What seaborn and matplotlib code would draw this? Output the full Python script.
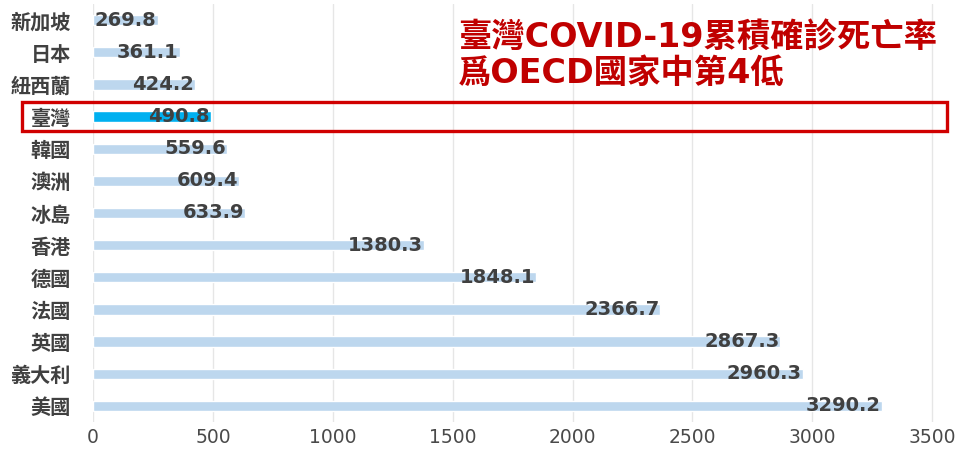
import matplotlib
matplotlib.use("Agg")
import matplotlib.pyplot as plt
import matplotlib.transforms as mtransforms
from matplotlib.patches import Rectangle
import seaborn as sns
import pandas as pd

# data
countries = ["新加坡", "日本", "紐西蘭", "臺灣", "韓國", "澳洲", "冰島",
             "香港", "德國", "法國", "英國", "義大利", "美國"]
values = [269.8, 361.1, 424.2, 490.8, 559.6, 609.4, 633.9,
          1380.3, 1848.1, 2366.7, 2867.3, 2960.3, 3290.2]
highlight = "臺灣"
title_lines = ["臺灣COVID-19累積確診死亡率", "爲OECD國家中第4低"]
xticks = [0, 500, 1000, 1500, 2000, 2500, 3000, 3500]

sns.set_style("white")
plt.rcParams["font.family"] = ["Noto Sans CJK TC", "DejaVu Sans"]

df = pd.DataFrame({"country": countries, "value": values})
colors = {c: ("#00b0f0" if c == highlight else "#bdd7ee") for c in countries}

fig = plt.figure(figsize=(9.58, 4.5), dpi=100)
ax = fig.add_axes([93 / 958, 1 - 422 / 450, (947 - 93) / 958, (422 - 4) / 450])

sns.barplot(data=df, x="value", y="country", hue="country", palette=colors,
            saturation=1, width=0.32, legend=False, ax=ax, orient="h", zorder=2)

# taiwan bar a bit thicker
for p, c in zip(ax.patches, countries):
    if c == highlight:
        h = 0.37
        p.set_y(countries.index(c) - h / 2)
        p.set_height(h)

ax.set_xlim(0, 3562)
ax.set_ylim(len(countries) - 0.5, -0.5)
ax.set_xticks(xticks)
ax.set_xlabel("")
ax.set_ylabel("")
ax.grid(axis="x", color="#e6e6e6", linewidth=1, zorder=0)
ax.set_axisbelow(True)
sns.despine(ax=ax, left=True, bottom=True, right=True, top=True)
ax.tick_params(axis="both", length=0)
ax.tick_params(axis="y", pad=16)
ax.tick_params(axis="x", pad=4)

for lab in ax.get_yticklabels():
    lab.set_fontsize(14.5)
    lab.set_fontweight("bold")
    lab.set_color("#404040")
for lab in ax.get_xticklabels():
    lab.set_fontsize(13.5)
    lab.set_family(["DejaVu Sans"])
    lab.set_color("#4a4a4a")

# value labels at bar ends
for i, v in enumerate(values):
    ax.text(v - 4, i, f"{v:.1f}", ha="right", va="center", fontsize=14,
            fontweight="bold", family=["DejaVu Sans"], color="#404040", zorder=3)

# title
for k, line in enumerate(title_lines):
    fig.text(458 / 958, 1 - (38 + 35 * k) / 450, line, ha="left", va="center",
             fontsize=24, fontweight="bold", color="#c00000",
             family=["DejaVu Sans", "Noto Sans CJK TC"])

# red box around taiwan row
trans = mtransforms.blended_transform_factory(fig.transFigure, ax.transData)
ti = countries.index(highlight)
ax.add_patch(Rectangle((22 / 958, ti - 0.46), (947 - 22) / 958, 0.92,
                       transform=trans, fill=False, edgecolor="#d00000",
                       linewidth=2.4, clip_on=False, zorder=5))

fig.savefig("out.png", dpi=100)
